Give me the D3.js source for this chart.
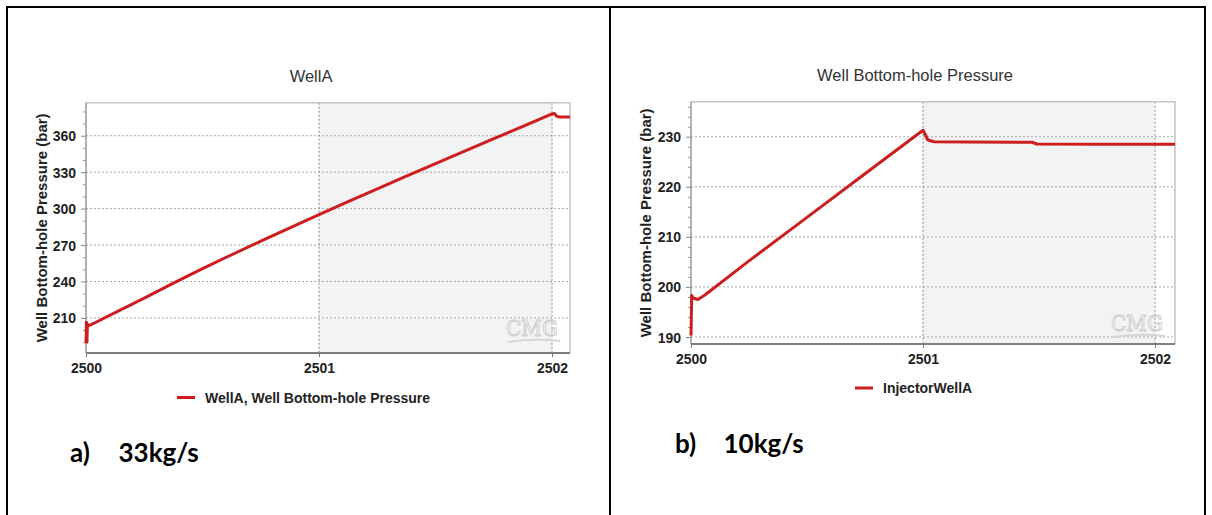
<!DOCTYPE html>
<html>
<head>
<meta charset="utf-8">
<script src="https://cdn.jsdelivr.net/npm/d3@7"></script>
<style>
  html, body { margin: 0; padding: 0; background: #fff; }
  svg { display: block; }
</style>
</head>
<body>
<svg id="fig" width="1212" height="515"></svg>
<script>
// ---- Panel a: WellA, 33 kg/s ----
const timeA = [2500.0, 2500.002, 2500.004, 2500.006, 2500.01, 2500.03, 2500.125, 2500.25, 2500.375,
               2500.5, 2500.625, 2500.75, 2500.875, 2501.0, 2501.125, 2501.25, 2501.375, 2501.5,
               2501.625, 2501.75, 2501.875, 2502.0, 2502.01, 2502.02, 2502.03, 2502.077];
const pressureA = [189.5, 206.5, 190.0, 205.0, 203.5, 205.2, 214.3, 226.3, 238.6,
                   250.6, 262.0, 273.2, 284.2, 295.0, 305.7, 316.3, 326.7, 337.0,
                   347.3, 357.6, 367.8, 378.0, 378.3, 376.0, 375.5, 375.5];
const yTicksA = [210, 240, 270, 300, 330, 360];

// ---- Panel b: InjectorWellA, 10 kg/s ----
const timeB = [2500.0, 2500.003, 2500.008, 2500.03, 2500.06, 2500.25, 2500.5, 2500.75, 2501.0,
               2501.01, 2501.02, 2501.047, 2501.2, 2501.47, 2501.49, 2501.8, 2502.086];
const pressureB = [190.3, 198.3, 197.8, 197.5, 198.4, 205.2, 213.9, 222.6, 231.3,
                   230.4, 229.4, 229.0, 228.95, 228.9, 228.55, 228.5, 228.5];
const yTicksB = [190, 200, 210, 220, 230];

const xTicks = [2500, 2501, 2502];
const xTickLabels = ["2500", "2501", "2502"];

const panels = [
  {
    title: "WellA", legend: "WellA, Well Bottom-hole Pressure", caption: ["a)", "33kg/s"],
    time: timeA, values: pressureA, yTicks: yTicksA, minorStep: 10,
    x0: 86, x1: 570, y0: 353, y1: 102.7,
    xDomain: [2500, 2502.077], yDomain: [181.1, 387.2],
    titleY: 81.5, xLabelY: 373, legendY: 397.5, legendX: 177, captionY: 462, captionX: 70, captionGap: 48.5,
    yTitleX: 47, wmY: -17
  },
  {
    title: "Well Bottom-hole Pressure", legend: "InjectorWellA", caption: ["b)", "10kg/s"],
    time: timeB, values: pressureB, yTicks: yTicksB, minorStep: 2,
    x0: 691, x1: 1175, y0: 344, y1: 101.7,
    xDomain: [2500, 2502.086], yDomain: [188.6, 237.0],
    titleY: 81, xLabelY: 364, legendY: 388, legendX: 855, captionY: 453, captionX: 675, captionGap: 48.5,
    yTitleX: 651, wmY: -13
  }
];

const svg = d3.select("#fig");
svg.append("rect").attr("width", 1212).attr("height", 515).attr("fill", "#fff");

// table borders around the two panels
const border = svg.append("g").attr("stroke", "#000").attr("stroke-width", 2);
border.append("line").attr("x1", 7).attr("x2", 1205).attr("y1", 7).attr("y2", 7);
border.append("line").attr("x1", 7).attr("x2", 7).attr("y1", 6).attr("y2", 515);
border.append("line").attr("x1", 610).attr("x2", 610).attr("y1", 6).attr("y2", 515);
border.append("line").attr("x1", 1205).attr("x2", 1205).attr("y1", 6).attr("y2", 515);

const FONT = "'Liberation Sans', Arial, sans-serif";
const CAPTION_FONT = "Lato, 'Open Sans', sans-serif";
const RED = "#cc1d1f";

panels.forEach(p => {
  const x = d3.scaleLinear().domain(p.xDomain).range([p.x0, p.x1]);
  const y = d3.scaleLinear().domain(p.yDomain).range([p.y0, p.y1]);
  const g = svg.append("g");

  // shaded second simulation year
  g.append("rect")
    .attr("x", x(2501)).attr("y", p.y1)
    .attr("width", x(2502) - x(2501)).attr("height", p.y0 - p.y1)
    .attr("fill", "#f3f3f3");

  // horizontal dashed grid
  g.append("g").selectAll("line").data(p.yTicks).join("line")
    .attr("x1", p.x0).attr("x2", p.x1)
    .attr("y1", d => y(d)).attr("y2", d => y(d))
    .attr("stroke", "#a8a8a8").attr("stroke-width", 1).attr("stroke-dasharray", "2,2");

  // vertical dashed grid at year boundaries
  g.append("g").selectAll("line").data(xTicks.slice(1)).join("line")
    .attr("x1", d => x(d)).attr("x2", d => x(d))
    .attr("y1", p.y1).attr("y2", p.y0)
    .attr("stroke", "#8a8a8a").attr("stroke-width", 1).attr("stroke-dasharray", "2,2");

  // plot frame: top and right
  g.append("path")
    .attr("d", `M${p.x0},${p.y1}H${p.x1}V${p.y0}`)
    .attr("fill", "none").attr("stroke", "#c4c4c4").attr("stroke-width", 1.5);

  // Y axis with major and minor ticks
  const minorTicks = d3.range(Math.ceil(p.yDomain[0] / p.minorStep) * p.minorStep, p.yDomain[1], p.minorStep)
    .filter(v => !p.yTicks.includes(v));
  const yMinor = d3.axisLeft(y).tickValues(minorTicks).tickSize(3).tickFormat("");
  g.append("g").attr("transform", `translate(${p.x0},0)`).call(yMinor)
    .call(s => s.select(".domain").remove())
    .call(s => s.selectAll("line").attr("stroke", "#999"));
  const yAxis = d3.axisLeft(y).tickValues(p.yTicks).tickSize(5).tickPadding(5).tickFormat(d3.format("d"));
  g.append("g").attr("transform", `translate(${p.x0},0)`).call(yAxis)
    .call(s => s.select(".domain").attr("stroke", "#999").attr("stroke-width", 1.5)
      .attr("d", `M0,${p.y1}V${p.y0}`))
    .call(s => s.selectAll("line").attr("stroke", "#888"))
    .call(s => s.selectAll("text").attr("fill", "#222").attr("font-family", FONT)
      .attr("font-weight", "bold").attr("font-size", 14).attr("dy", "0.36em"));

  // X axis
  const xAxis = d3.axisBottom(x).tickValues(xTicks).tickSize(4).tickFormat((d, i) => xTickLabels[i]);
  const xg = g.append("g").attr("transform", `translate(0,${p.y0})`).call(xAxis);
  xg.select(".domain").attr("stroke", "#808080").attr("stroke-width", 2)
    .attr("d", `M${p.x0},0H${p.x1}`);
  xg.selectAll("line").attr("stroke", "#777");
  xg.selectAll("text").attr("fill", "#222").attr("font-family", FONT)
    .attr("font-weight", "bold").attr("font-size", 14)
    .attr("y", p.xLabelY - p.y0).attr("dy", 0);

  // software watermark in the lower-right corner
  const wm = g.append("g").attr("transform", `translate(${p.x1 - 64},${p.y0})`);
  wm.append("text").attr("x", 0).attr("y", p.wmY)
    .attr("font-family", "'DejaVu Serif', serif").attr("font-size", 22)
    .attr("textLength", 52).attr("lengthAdjust", "spacingAndGlyphs")
    .attr("fill", "none").attr("stroke", "#cfcfcf").attr("stroke-width", 1)
    .text("CMG");
  wm.append("path")
    .attr("d", `M2,${p.wmY + 6} Q28,${p.wmY + 2} 54,${p.wmY + 5}`)
    .attr("fill", "none").attr("stroke", "#d6d6d6").attr("stroke-width", 2);

  // data line
  const line = d3.line().x((d, i) => x(p.time[i])).y(d => y(d));
  g.append("path").datum(p.values)
    .attr("d", line)
    .attr("fill", "none").attr("stroke", RED).attr("stroke-width", 3)
    .attr("stroke-linejoin", "round");

  // chart title
  g.append("text").attr("x", (p.x0 + x(2502)) / 2 - 8).attr("y", p.titleY)
    .attr("text-anchor", "middle").attr("font-family", FONT).attr("font-size", 16.5)
    .attr("fill", "#333").text(p.title);

  // y axis title
  g.append("text")
    .attr("transform", `translate(${p.yTitleX},${(p.y0 + p.y1) / 2}) rotate(-90)`)
    .attr("text-anchor", "middle").attr("font-family", FONT).attr("font-weight", "bold")
    .attr("font-size", 15).attr("fill", "#222").text("Well Bottom-hole Pressure (bar)");

  // legend
  g.append("line").attr("x1", p.legendX).attr("x2", p.legendX + 18)
    .attr("y1", p.legendY).attr("y2", p.legendY)
    .attr("stroke", RED).attr("stroke-width", 3);
  g.append("text").attr("x", p.legendX + 28).attr("y", p.legendY + 5)
    .attr("font-family", FONT).attr("font-weight", "bold").attr("font-size", 14)
    .attr("fill", "#222").text(p.legend);

  // caption
  g.append("text").attr("x", p.captionX).attr("y", p.captionY)
    .attr("font-family", CAPTION_FONT).attr("font-weight", "bold")
    .attr("font-size", 26).attr("fill", "#000").text(p.caption[0]);
  g.append("text").attr("x", p.captionX + p.captionGap).attr("y", p.captionY)
    .attr("font-family", CAPTION_FONT).attr("font-weight", "bold")
    .attr("font-size", 26).attr("fill", "#000").text(p.caption[1]);
});
</script>
</body>
</html>
